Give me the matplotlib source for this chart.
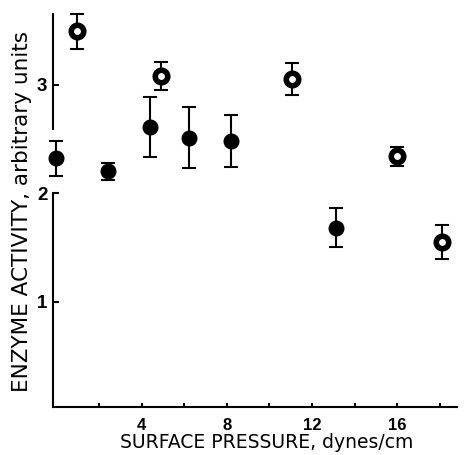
import matplotlib
matplotlib.use("Agg")
import matplotlib.pyplot as plt
from matplotlib.ticker import FixedLocator, FuncFormatter

# Enzyme activity vs. surface pressure
# closed symbols
pressure_closed = [0.0, 2.4, 4.4, 6.2, 8.2, 13.1]
activity_closed = [2.32, 2.20, 2.61, 2.51, 2.48, 1.68]
error_closed = [0.16, 0.08, 0.28, 0.28, 0.24, 0.18]

# open symbols
pressure_open = [0.95, 4.9, 11.05, 16.0, 18.1]
activity_open = [3.49, 3.08, 3.05, 2.34, 1.55]
error_open = [0.16, 0.13, 0.15, 0.09, 0.16]

x_ticks = [2, 4, 6, 8, 10, 12, 14, 16, 18]
x_labeled = [4, 8, 12, 16]
y_ticks = [1, 2, 3]

plt.rcParams['font.family'] = ['Liberation Sans', 'DejaVu Sans']

W, H = 466, 455
fig = plt.figure(figsize=(W / 100, H / 100), dpi=100)
left, right, bottom, top = 53, 457, 407, 13
ax = fig.add_axes([left / W, (H - bottom) / H, (right - left) / W, (bottom - top) / H])

xmin, xmax = -0.16, 18.8
ymin, ymax = 0.03, 3.66
ax.set_xlim(xmin, xmax)
ax.set_ylim(ymin, ymax)

lw = 1.5
bar_kw = dict(fmt='none', ecolor='black', elinewidth=lw, capsize=5,
              capthick=lw, clip_on=False, zorder=2)
ax.errorbar(pressure_closed, activity_closed, yerr=error_closed, **bar_kw)
ax.errorbar(pressure_open, activity_open, yerr=error_open, **bar_kw)

ax.plot(pressure_closed, activity_closed, 'o', color='black',
        markersize=10.5, clip_on=False, zorder=3)
ax.plot(pressure_open, activity_open, 'o', markerfacecolor='white',
        markeredgecolor='black', markersize=9, markeredgewidth=4,
        clip_on=False, zorder=3)

for s in ('top', 'right'):
    ax.spines[s].set_visible(False)
ax.spines['bottom'].set_linewidth(lw)
ax.spines['left'].set_linewidth(lw)
ax.spines['left'].set_bounds(ymin, 2.0)
# upper piece of the broken vertical axis
ax.plot([xmin, xmin], [2.585, ymax], color='black', lw=lw, clip_on=False,
        solid_capstyle='butt')

ax.xaxis.set_major_locator(FixedLocator(x_ticks))
ax.xaxis.set_major_formatter(FuncFormatter(
    lambda v, p: f"{int(round(v))}" if int(round(v)) in x_labeled else ""))
ax.yaxis.set_major_locator(FixedLocator(y_ticks))
ax.tick_params(axis='x', direction='in', length=3, width=lw, pad=8,
               labelsize=12)
ax.tick_params(axis='y', direction='in', length=4, width=lw, pad=4,
               labelsize=13.5)
for t in ax.get_xticklabels() + ax.get_yticklabels():
    t.set_fontweight('bold')

ax.set_xlabel('SURFACE PRESSURE, dynes/cm', fontsize=13.5, family='DejaVu Sans')
ax.xaxis.set_label_coords(0.53, -0.066)
ax.set_ylabel('ENZYME ACTIVITY, arbitrary units', fontsize=15.5,
              family='DejaVu Sans')
ax.yaxis.set_label_coords(-0.052, 0.497)

fig.savefig('out.png', dpi=100)
